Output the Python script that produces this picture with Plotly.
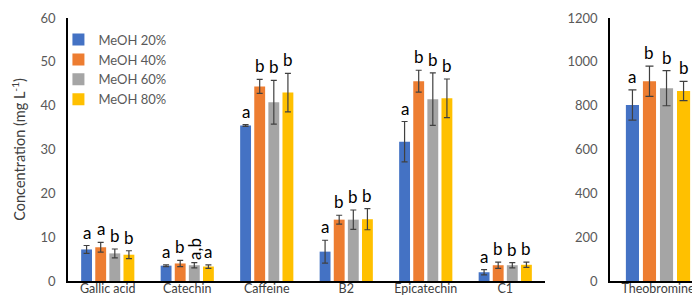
import plotly.graph_objects as go

categories = ["Gallic acid", "Catechin", "Caffeine", "B2", "Epicatechin", "C1"]
series_names = ["MeOH 20%", "MeOH 40%", "MeOH 60%", "MeOH 80%"]
colors = ["#4472C4", "#ED7D31", "#A5A5A5", "#FFC000"]

values = [
    [7.2, 3.5, 35.5, 6.7, 31.8, 2.0],
    [7.7, 4.0, 44.4, 14.0, 45.6, 3.6],
    [6.3, 3.6, 40.8, 14.0, 41.5, 3.6],
    [6.0, 3.3, 43.0, 14.1, 41.7, 3.7],
]
errors = [
    [0.9, 0.2, 0.2, 2.6, 4.6, 0.6],
    [1.1, 0.7, 1.6, 1.0, 2.5, 0.7],
    [1.0, 0.6, 5.0, 2.2, 6.0, 0.6],
    [0.9, 0.4, 4.4, 2.4, 4.4, 0.6],
]
letters = [
    ["a", "a", "a", "a", "a", "a"],
    ["a", "b", "b", "b", "b", "b"],
    ["b", "a,b", "b", "b", "b", "b"],
    ["b", "a", "b", "b", "b", "b"],
]

theo_cat = ["Theobromine"]
theo_values = [803, 912, 880, 867]
theo_errors = [69, 69, 80, 44]
theo_letters = ["a", "b", "b", "b"]

BARGAP = 0.29
GROUPGAP = 0.23
FONT = "Lato"

fig = go.Figure()
for i in range(4):
    fig.add_trace(go.Bar(
        x=categories, y=values[i], name=series_names[i], marker_color=colors[i],
        marker_line_width=0,
        error_y=dict(type="data", array=errors[i], color="#404040", thickness=1.2, width=3),
        xaxis="x", yaxis="y", legendgroup=series_names[i],
    ))
for i in range(4):
    fig.add_trace(go.Bar(
        x=theo_cat, y=[theo_values[i]], name=series_names[i], marker_color=colors[i],
        marker_line_width=0,
        error_y=dict(type="data", array=[theo_errors[i]], color="#404040", thickness=1.2, width=4),
        xaxis="x2", yaxis="y2", legendgroup=series_names[i], showlegend=False,
    ))

slot = (1 - BARGAP) / 4
annotations = []
for i in range(4):
    for c in range(len(categories)):
        txt = letters[i][c]
        annotations.append(dict(
            x=c + (i - 1.5) * slot, y=values[i][c] + errors[i][c], xref="x", yref="y",
            text=txt, showarrow=False, yanchor="bottom", yshift=1,
            textangle=-90 if "," in txt else 0,
            font=dict(family=FONT, size=17, color="#000000"),
        ))
    annotations.append(dict(
        x=(i - 1.5) * slot, y=theo_values[i] + theo_errors[i], xref="x2", yref="y2",
        text=theo_letters[i], showarrow=False, yanchor="bottom", yshift=1,
        font=dict(family=FONT, size=17, color="#000000"),
    ))

annotations.append(dict(
    x=-0.078, y=0.5, xref="paper", yref="paper", xanchor="center", yanchor="middle",
    text="Concentration (mg L<sup>-1</sup>)", textangle=-90, showarrow=False,
    font=dict(family=FONT, size=14.5, color="#404040"),
))

W, H = 700, 299
ml, mr, mt, mb = 60, 2, 7, 26
pw = W - ml - mr
axis_common = dict(showgrid=False, zeroline=False, showline=True, linecolor="#000000",
                   linewidth=1.5)

fig.update_layout(
    width=W, height=H, margin=dict(l=ml, r=mr, t=mt, b=mb),
    paper_bgcolor="white", plot_bgcolor="white",
    barmode="group", bargap=BARGAP, bargroupgap=GROUPGAP,
    font=dict(family=FONT, color="#595959"),
    xaxis=dict(domain=[0, (537 - ml) / pw], ticks="", anchor="y", ticklabelstandoff=-5,
               tickfont=dict(family=FONT, size=12.5, color="#404040"), **axis_common),
    xaxis2=dict(domain=[(602 - ml) / pw, 1.0], ticks="", anchor="y2", ticklabelstandoff=-5,
                tickfont=dict(family=FONT, size=12.5, color="#404040"), **axis_common),
    yaxis=dict(range=[0, 60.02], tickvals=[0, 10, 20, 30, 40, 50, 60], ticks="outside",
               ticklen=8, tickcolor="rgba(0,0,0,0)", anchor="x", ticklabeloverflow="allow",
               tickfont=dict(family=FONT, size=13, color="#595959"), **axis_common),
    yaxis2=dict(range=[0, 1200.4], tickvals=[0, 200, 400, 600, 800, 1000, 1200], ticks="outside",
                ticklen=8, tickcolor="rgba(0,0,0,0)", anchor="x2", ticklabeloverflow="allow",
                tickfont=dict(family=FONT, size=13, color="#595959"), **axis_common),
    legend=dict(x=-0.015, y=0.975, xanchor="left", yanchor="top", bgcolor="rgba(0,0,0,0)",
                font=dict(family=FONT, size=13, color="#595959"), itemwidth=30,
                tracegroupgap=0),
    annotations=annotations,
    showlegend=True,
)

fig.write_html("out.html")
